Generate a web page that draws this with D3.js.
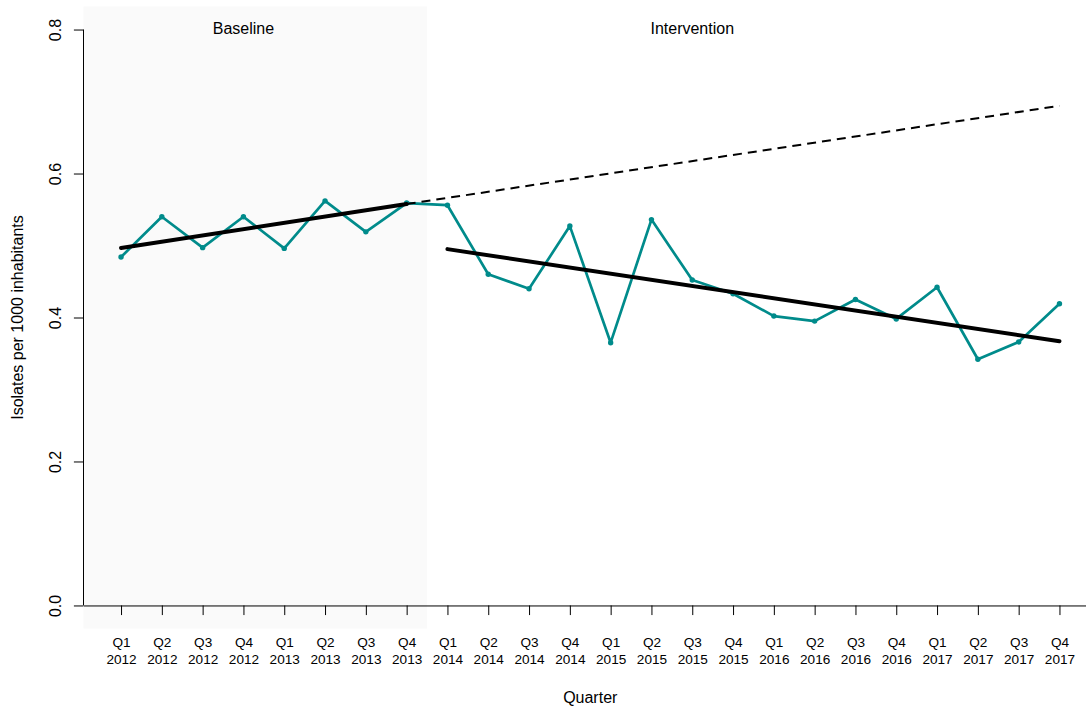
<!DOCTYPE html>
<html>
<head>
<meta charset="utf-8">
<script src="https://cdn.jsdelivr.net/npm/d3@7"></script>
<style>
  html, body { margin: 0; padding: 0; background: #ffffff; }
  svg { display: block; }
  text { font-family: "Liberation Sans", Arial, Helvetica, sans-serif; fill: #000; }
</style>
</head>
<body>
<svg id="chart" width="1086" height="706"></svg>
<script>
// ---- data ----
const quarterLabels = ["Q1","Q2","Q3","Q4","Q1","Q2","Q3","Q4","Q1","Q2","Q3","Q4",
                       "Q1","Q2","Q3","Q4","Q1","Q2","Q3","Q4","Q1","Q2","Q3","Q4"];
const yearLabels = ["2012","2012","2012","2012","2013","2013","2013","2013",
                    "2014","2014","2014","2014","2015","2015","2015","2015",
                    "2016","2016","2016","2016","2017","2017","2017","2017"];
const quarterIndex = d3.range(1, 25);
const isolates = [0.484, 0.540, 0.497, 0.540, 0.496, 0.562, 0.519, 0.559,
                  0.556, 0.460, 0.440, 0.527, 0.365, 0.536, 0.452, 0.433,
                  0.402, 0.395, 0.425, 0.398, 0.442, 0.342, 0.366, 0.419];
const yTicks = [0.0, 0.2, 0.4, 0.6, 0.8];
// trend lines (x = quarter index)
const baselineTrendX = [1, 8];
const baselineTrendY = [0.4965, 0.5576];
const counterfactualX = [8, 24];
const counterfactualY = [0.5576, 0.694];
const interventionTrendX = [9, 24];
const interventionTrendY = [0.495, 0.367];
// phase shading and labels
const baselinePhaseX = [0.08, 8.5];
const phaseLabels = ["Baseline", "Intervention"];
const phaseLabelX = [4, 15];

// ---- layout ----
const svg = d3.select("#chart");
const x = d3.scaleLinear().domain([0.08, 24.92]).range([83.5, 1097]);
const y = d3.scaleLinear().domain([-0.032, 0.832]).range([628.5, 6.5]);
const teal = "#008B8B";

// shaded baseline region
svg.append("rect")
  .attr("x", x(baselinePhaseX[0]))
  .attr("y", y(0.832))
  .attr("width", x(baselinePhaseX[1]) - x(baselinePhaseX[0]))
  .attr("height", y(-0.032) - y(0.832))
  .attr("fill", "#fafafa");

// phase labels
svg.selectAll("text.phase").data(phaseLabels).enter().append("text")
  .attr("class", "phase")
  .attr("x", (d, i) => x(phaseLabelX[i]))
  .attr("y", 34)
  .attr("text-anchor", "middle")
  .attr("font-size", "16px")
  .text(d => d);

// y axis
const yAxis = d3.axisLeft(y).tickValues(yTicks).tickFormat(d3.format(".1f"))
  .tickSize(9.6).tickSizeOuter(0);
const gy = svg.append("g").attr("transform", `translate(${x(0.08)},0)`).call(yAxis);
gy.select(".domain").remove();
gy.append("line")
  .attr("x1", 0).attr("x2", 0)
  .attr("y1", y(0)).attr("y2", y(0.8))
  .attr("stroke", "#000").attr("stroke-width", 1);
gy.selectAll(".tick line").attr("stroke", "#000");
gy.selectAll(".tick text")
  .attr("transform", "rotate(-90)")
  .attr("x", 0).attr("y", -22.5).attr("dy", 0)
  .attr("text-anchor", "middle")
  .attr("font-size", "16px")
  .attr("fill", "#000")
  .style("font-family", "'Liberation Sans', Arial, Helvetica, sans-serif");

// x axis
const xAxis = d3.axisBottom(x).tickValues(quarterIndex).tickFormat("")
  .tickSize(9.6).tickSizeOuter(0);
const gx = svg.append("g").attr("transform", `translate(0,${y(0)})`).call(xAxis);
gx.select(".domain").attr("stroke", "#000");
gx.selectAll(".tick line").attr("stroke", "#000");
gx.selectAll(".tick text").remove();
const xl = gx.selectAll("g.tick").append("text")
  .attr("text-anchor", "middle")
  .attr("font-size", "13.6px")
  .attr("fill", "#000")
  .style("font-family", "'Liberation Sans', Arial, Helvetica, sans-serif");
xl.append("tspan").attr("x", 0).attr("y", 647 - y(0)).text((d, i) => quarterLabels[i]);
xl.append("tspan").attr("x", 0).attr("y", 664 - y(0)).text((d, i) => yearLabels[i]);

// axis titles
svg.append("text")
  .attr("x", (x.range()[0] + x.range()[1]) / 2)
  .attr("y", 703)
  .attr("text-anchor", "middle")
  .attr("font-size", "16px")
  .text("Quarter");
svg.append("text")
  .attr("transform", `translate(23,${(y.range()[0] + y.range()[1]) / 2}) rotate(-90)`)
  .attr("text-anchor", "middle")
  .attr("font-size", "16px")
  .text("Isolates per 1000 inhabitants");

// data series
const line = d3.line().x((d, i) => x(quarterIndex[i])).y(d => y(d));
svg.append("path")
  .datum(isolates)
  .attr("d", line)
  .attr("fill", "none")
  .attr("stroke", teal)
  .attr("stroke-width", 2.7)
  .attr("stroke-linejoin", "round");
svg.selectAll("circle.pt").data(isolates).enter().append("circle")
  .attr("class", "pt")
  .attr("cx", (d, i) => x(quarterIndex[i]))
  .attr("cy", d => y(d))
  .attr("r", 2.7)
  .attr("fill", teal);

// trend lines
const seg = (xs, ys) => d3.line().x((d, i) => x(xs[i])).y(d => y(d))(ys);
svg.append("path").attr("d", seg(counterfactualX, counterfactualY))
  .attr("fill", "none").attr("stroke", "#000").attr("stroke-width", 2)
  .attr("stroke-dasharray", "9,6");
svg.append("path").attr("d", seg(baselineTrendX, baselineTrendY))
  .attr("fill", "none").attr("stroke", "#000").attr("stroke-width", 4)
  .attr("stroke-linecap", "round");
svg.append("path").attr("d", seg(interventionTrendX, interventionTrendY))
  .attr("fill", "none").attr("stroke", "#000").attr("stroke-width", 4)
  .attr("stroke-linecap", "round");
</script>
</body>
</html>
